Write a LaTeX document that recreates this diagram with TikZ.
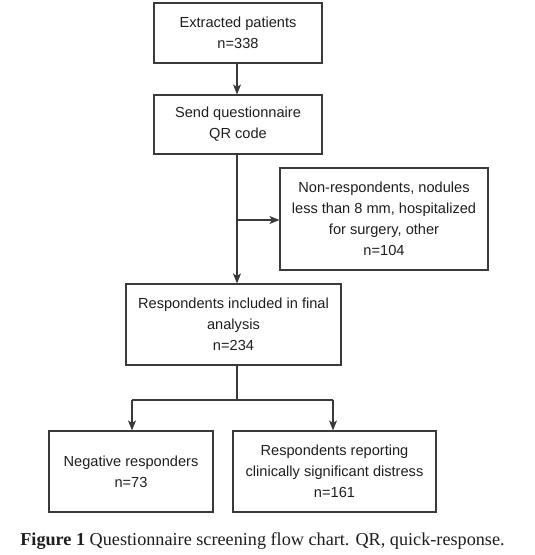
\documentclass[tikz,border=0pt]{standalone}
\usepackage{fontspec}
\setmainfont{Liberation Sans}
\newfontfamily\capfont{Liberation Serif}
\usetikzlibrary{arrows.meta}
\definecolor{linec}{HTML}{3A3A3A}
\definecolor{textc}{HTML}{1E1E1E}
\tikzset{
  box/.style={draw=linec, line width=1.1pt, rectangle, align=center, text=textc,
    font=\fontsize{14.6}{21}\selectfont, inner sep=0pt},
  arr/.style={draw=linec, line width=1.1pt, -{Stealth[length=10pt,width=8pt,inset=2.5pt]}},
  ln/.style={draw=linec, line width=1.1pt}
}
\begin{document}
\begin{tikzpicture}[x=1pt,y=-1pt]
\useasboundingbox (0,0) rectangle (535,555);
\node[box, minimum width=168pt, minimum height=60pt] (b1) at (238,33) {Extracted patients\\n=338};
\node[box, minimum width=168pt, minimum height=59pt] (b2) at (238,124.5) {Send questionnaire\\QR code};
\node[box, minimum width=208pt, minimum height=102pt] (b3) at (384,219) {Non-respondents, nodules\\less than 8 mm, hospitalized\\for surgery, other\\n=104};
\node[box, minimum width=215pt, minimum height=81pt] (b4) at (233.5,324.5) {Respondents included in final\\analysis\\n=234};
\node[box, minimum width=164pt, minimum height=81pt] (b5) at (131,471.5) {Negative responders\\n=73};
\node[box, minimum width=203pt, minimum height=81pt] (b6) at (334.5,471.5) {Respondents reporting\\clinically significant distress\\n=161};
\node[text=textc, font=\capfont\fontsize{18.2}{22}\selectfont, anchor=base] (cap) at (262.5,545) {\textbf{Figure 1} Questionnaire screening flow chart. QR, quick-response.};

\coordinate (t2) at (237,154);
\coordinate (j) at (237,220);
\coordinate (t4) at (237,365);
\coordinate (sp) at (237,400);
\coordinate (l5) at (132,400);
\coordinate (l6) at (333,400);

\draw[arr] (b1.south -| t2) -- (b2.north -| t2);
\draw[arr] (t2) -- (b4.north -| t2);
\draw[arr] (j) -- (b3.west |- j);
\draw[ln] (t4) -- (sp);
\draw[ln] (l5) -- (l6);
\draw[arr] (l5) -- (b5.north -| l5);
\draw[arr] (l6) -- (b6.north -| l6);
\end{tikzpicture}
\end{document}
